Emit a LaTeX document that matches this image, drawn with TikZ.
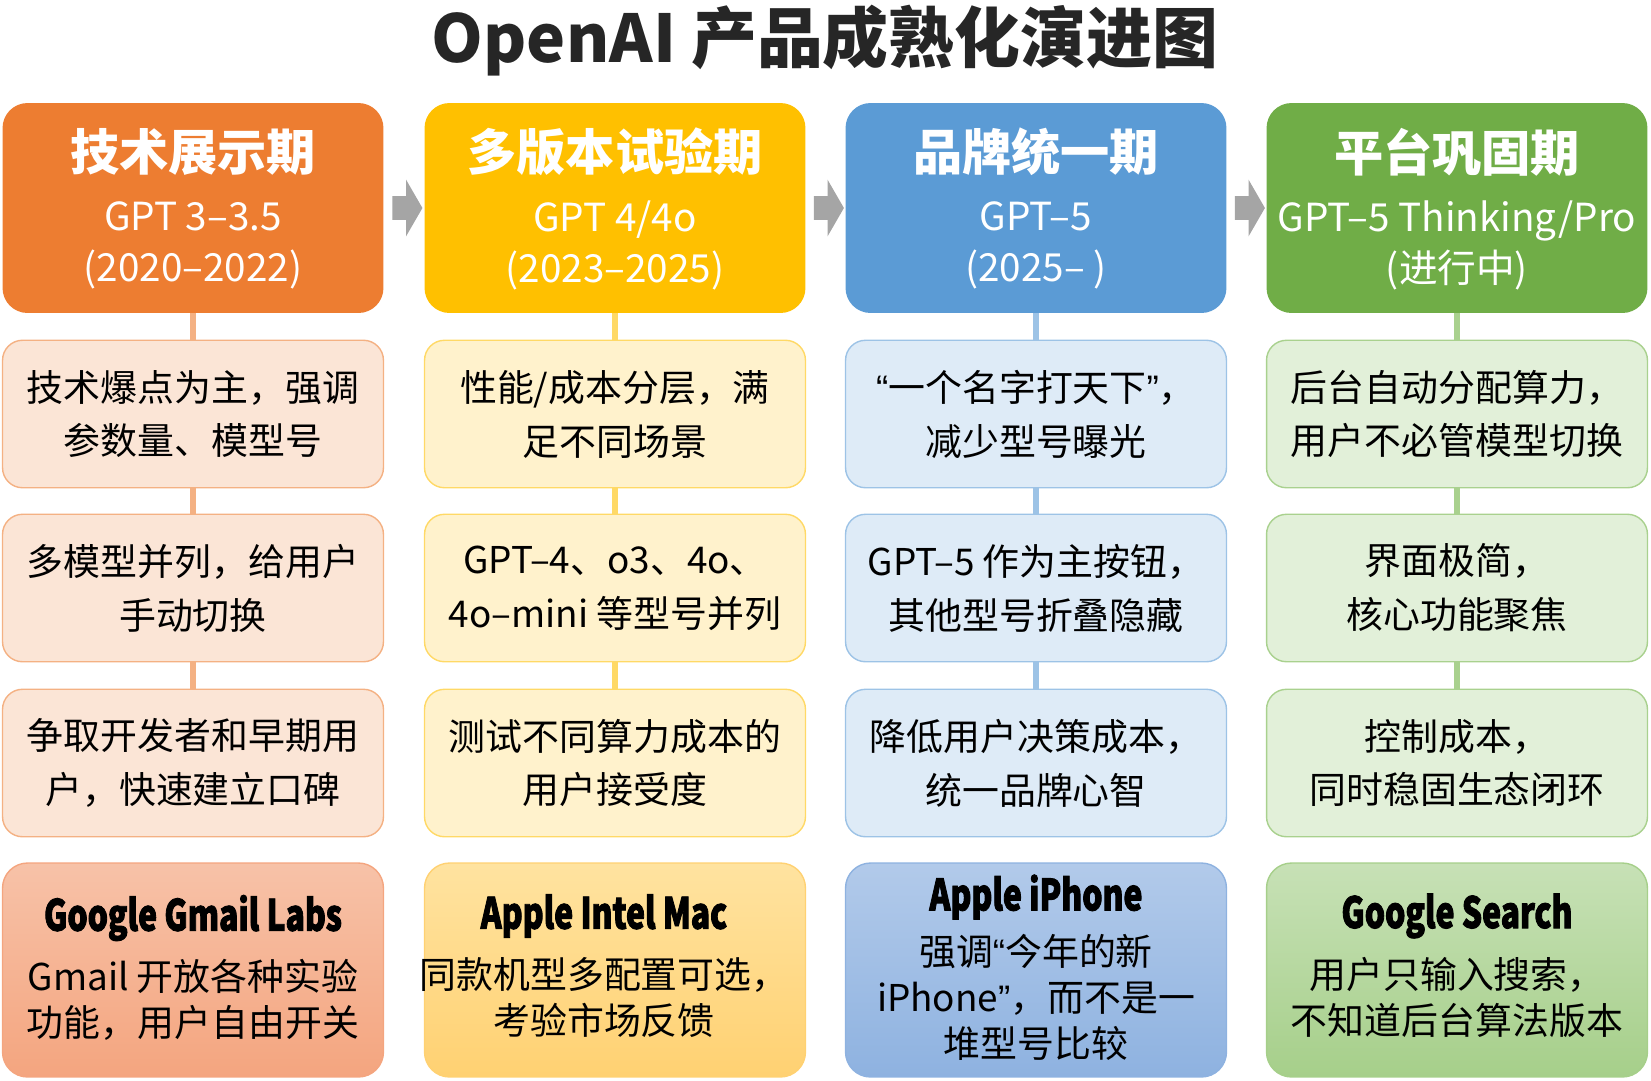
\documentclass[tikz,border=0pt]{standalone}
\usepackage{fontspec}
\setmainfont{Noto Sans CJK SC}
\newfontfamily\condfont[FakeStretch=0.74,FakeBold=2]{Noto Sans CJK SC}
\newfontfamily\qfont{Liberation Sans}
\newcommand\openq{{\qfont “}}
\newcommand\closeq{{\qfont ”}}
\usetikzlibrary{calc,shapes.arrows}
\definecolor{titlegray}{HTML}{262626}
\definecolor{orgdk}{HTML}{ED7D31}
\definecolor{orglt}{HTML}{FBE5D6}
\definecolor{orgln}{HTML}{F4B183}
\definecolor{orgtop}{HTML}{F7C2A8}
\definecolor{orgbot}{HTML}{F4A57F}
\definecolor{yeldk}{HTML}{FFC000}
\definecolor{yellt}{HTML}{FFF2CC}
\definecolor{yelln}{HTML}{FFD966}
\definecolor{yeltop}{HTML}{FFE3A0}
\definecolor{yelbot}{HTML}{FFD172}
\definecolor{bludk}{HTML}{5B9BD5}
\definecolor{blult}{HTML}{DEEBF7}
\definecolor{bluln}{HTML}{9DC3E6}
\definecolor{blutop}{HTML}{B2CAEA}
\definecolor{blubot}{HTML}{8EB2E0}
\definecolor{grndk}{HTML}{70AD47}
\definecolor{grnlt}{HTML}{E2F0D9}
\definecolor{grnln}{HTML}{A9D18E}
\definecolor{grntop}{HTML}{C7E1B6}
\definecolor{grnbot}{HTML}{A6CF8A}
\definecolor{arrgray}{HTML}{A5A5A5}
\tikzset{
  headbox/.style={fill=#1, rounded corners=0.5cm,
    minimum width=7.62cm, minimum height=4.2cm},
  midbox/.style 2 args={fill=#1, draw=#2, line width=0.8pt,
    rounded corners=0.4cm, minimum width=7.62cm, minimum height=2.95cm,
    font=\fontsize{21}{30.7}\selectfont, align=center},
  casebox/.style 2 args={top color=#1, bottom color=#2, draw=#2,
    line width=0.8pt, rounded corners=0.5cm,
    minimum width=7.62cm, minimum height=4.28cm},
  headttl/.style={text=white, font=\fontsize{28}{30}\selectfont\bfseries},
  headsub/.style={text=white, align=center,
    font=\fontsize{22}{29}\selectfont},
  casettl/.style={font=\condfont\bfseries\fontsize{24.5}{26}\selectfont},
  casetxt/.style={align=center, font=\fontsize{21}{26.2}\selectfont},
  link/.style={draw=#1, line width=0.12cm},
  steparrow/.style={single arrow, fill=arrgray, inner xsep=0pt,
    inner ysep=0.23cm, minimum height=0.6cm,
    single arrow head extend=0.33cm, single arrow tip angle=120},
}
\begin{document}
\begin{tikzpicture}[x=0.02cm,y=-0.02cm,every node/.style={inner sep=0pt}]
\useasboundingbox (0,0) rectangle (1651,1080);

\node[text=titlegray, font=\fontsize{37.5}{40}\selectfont\bfseries]
  (title) at (825,41) {OpenAI 产品成熟化演进图};

% column 1
\node[headbox=orgdk] (h1) at (193,208) {};
\node[headttl] (h1a) at (193,152) {技术展示期};
\node[headsub] (h1b) at (193,245) {GPT 3–3.5\\(2020–2022)};
\node[midbox={orglt}{orgln}] (r11) at (193,414) {技术爆点为主，强调\\参数量、模型号};
\node[midbox={orglt}{orgln}] (r12) at (193,588) {多模型并列，给用户\\手动切换};
\node[midbox={orglt}{orgln}] (r13) at (193,763) {争取开发者和早期用\\户，快速建立口碑};
\node[casebox={orgtop}{orgbot}] (c1) at (193,970) {};
\node[casettl] (c1a) at (193,918) {Google Gmail Labs};
\node[casetxt] (c1b) at (193,1000) {Gmail 开放各种实验\\功能，用户自由开关};

% column 2
\node[headbox=yeldk] (h2) at (615,208) {};
\node[headttl] (h2a) at (615,152) {多版本试验期};
\node[headsub] (h2b) at (615,245) {GPT 4/4o\\(2023–2025)};
\node[midbox={yellt}{yelln}] (r21) at (615,414) {性能/成本分层，满\\足不同场景};
\node[midbox={yellt}{yelln}] (r22) at (615,588) {GPT–4、o3、4o、\\4o–mini 等型号并列};
\node[midbox={yellt}{yelln}] (r23) at (615,763) {测试不同算力成本的\\用户接受度};
\node[casebox={yeltop}{yelbot}] (c2) at (615,970) {};
\node[casettl] (c2a) at (604,916) {Apple Intel Mac};
\node[casetxt] (c2b) at (604,997) {同款机型多配置可选，\\考验市场反馈};

% column 3
\node[headbox=bludk] (h3) at (1036,208) {};
\node[headttl] (h3a) at (1036,152) {品牌统一期};
\node[headsub] (h3b) at (1036,245) {GPT–5\\(2025– )};
\node[midbox={blult}{bluln}] (r31) at (1036,414) {\openq 一个名字打天下\closeq，\\减少型号曝光};
\node[midbox={blult}{bluln}] (r32) at (1036,588) {GPT–5 作为主按钮，\\其他型号折叠隐藏};
\node[midbox={blult}{bluln}] (r33) at (1036,763) {降低用户决策成本，\\统一品牌心智};
\node[casebox={blutop}{blubot}] (c3) at (1036,970) {};
\node[casettl] (c3a) at (1036,897) {Apple iPhone};
\node[casetxt] (c3b) at (1036,997) {强调\openq 今年的新\\iPhone\closeq，而不是一\\堆型号比较};

% column 4
\node[headbox=grndk] (h4) at (1457,208) {};
\node[headttl] (h4a) at (1457,152) {平台巩固期};
\node[headsub] (h4b) at (1457,245) {GPT–5 Thinking/Pro\\(进行中)};
\node[midbox={grnlt}{grnln}] (r41) at (1457,414) {后台自动分配算力，\\用户不必管模型切换};
\node[midbox={grnlt}{grnln}] (r42) at (1457,588) {界面极简，\\核心功能聚焦};
\node[midbox={grnlt}{grnln}] (r43) at (1457,763) {控制成本，\\同时稳固生态闭环};
\node[casebox={grntop}{grnbot}] (c4) at (1457,970) {};
\node[casettl] (c4a) at (1457,916) {Google Search};
\node[casetxt] (c4b) at (1457,997) {用户只输入搜索，\\不知道后台算法版本};

% links inside the columns
\draw[link=orgln] (h1) -- (r11);
\draw[link=orgln] (r11) -- (r12);
\draw[link=orgln] (r12) -- (r13);
\draw[link=yelln] (h2) -- (r21);
\draw[link=yelln] (r21) -- (r22);
\draw[link=yelln] (r22) -- (r23);
\draw[link=bluln] (h3) -- (r31);
\draw[link=bluln] (r31) -- (r32);
\draw[link=bluln] (r32) -- (r33);
\draw[link=grnln] (h4) -- (r41);
\draw[link=grnln] (r41) -- (r42);
\draw[link=grnln] (r42) -- (r43);

% arrows between the stages
\node[steparrow] (a12) at ($(h1.east)!0.5!(h2.west)$) {};
\node[steparrow] (a23) at ($(h2.east)!0.5!(h3.west)$) {};
\node[steparrow] (a34) at ($(h3.east)!0.5!(h4.west)$) {};
\end{tikzpicture}
\end{document}
